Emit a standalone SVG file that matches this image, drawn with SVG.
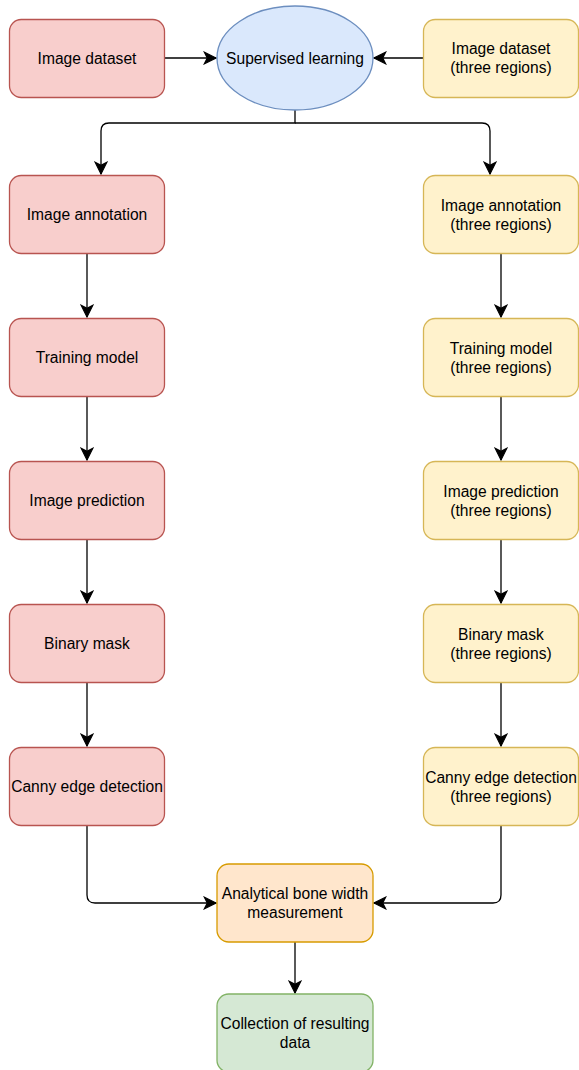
<svg xmlns="http://www.w3.org/2000/svg" width="579" height="1070" viewBox="0 0 579 1070">
<style>
  .n { stroke-width: 1.3; }
  .red { fill: #f8cecc; stroke: #b85450; }
  .yel { fill: #fff2cc; stroke: #d6b656; }
  .blu { fill: #dae8fc; stroke: #6c8ebf; }
  .org { fill: #ffe6cc; stroke: #d79b00; }
  .grn { fill: #d5e8d4; stroke: #82b366; }
  text { font-family: "Liberation Sans", Arial, sans-serif; font-size: 15.6px; fill: #000; text-anchor: middle; }
  .e { fill: none; stroke: #000; stroke-width: 1.3; }
</style>
<defs>
  <marker id="arr" markerUnits="userSpaceOnUse" markerWidth="14" markerHeight="14" viewBox="-11 -6 12 12" refX="0" refY="0" orient="auto">
    <path d="M0,0 L-10,-5 L-7.5,0 L-10,5 Z" fill="#000" stroke="#000" stroke-width="1"/>
  </marker>
</defs>

<g id="connectors">
  <path class="e" d="M164.5,58 H216" marker-end="url(#arr)"/>
  <path class="e" d="M423.5,58 H374" marker-end="url(#arr)"/>
  <path class="e" d="M295,110 V123 H109 Q101,123 101,131 V174" marker-end="url(#arr)"/>
  <path class="e" d="M295,123 H482 Q490,123 490,131 V174" marker-end="url(#arr)"/>
  <path class="e" d="M87,253 V317" marker-end="url(#arr)"/>
  <path class="e" d="M87,396 V460" marker-end="url(#arr)"/>
  <path class="e" d="M87,539 V603" marker-end="url(#arr)"/>
  <path class="e" d="M87,682 V746" marker-end="url(#arr)"/>
  <path class="e" d="M501,253 V317" marker-end="url(#arr)"/>
  <path class="e" d="M501,396 V460" marker-end="url(#arr)"/>
  <path class="e" d="M501,539 V603" marker-end="url(#arr)"/>
  <path class="e" d="M501,682 V746" marker-end="url(#arr)"/>
  <path class="e" d="M87,825 V895 Q87,903 95,903 H216" marker-end="url(#arr)"/>
  <path class="e" d="M501,825 V895 Q501,903 493,903 H374" marker-end="url(#arr)"/>
  <path class="e" d="M295,942 V993" marker-end="url(#arr)"/>
</g>

<g id="n-dataset"><rect class="n red" x="9.5" y="19.5" width="155" height="78" rx="11.7"/><text x="87" y="63.5">Image dataset</text></g>
<g id="n-supervised"><ellipse class="n blu" cx="295" cy="58" rx="78" ry="52"/><text x="295" y="63.5">Supervised learning</text></g>
<g id="n-dataset3"><rect class="n yel" x="423.5" y="19.5" width="155" height="78" rx="11.7"/><text x="501" y="54">Image dataset</text><text x="501" y="73">(three regions)</text></g>

<g id="n-annot"><rect class="n red" x="9.5" y="175.5" width="155" height="78" rx="11.7"/><text x="87" y="220">Image annotation</text></g>
<g id="n-annot3"><rect class="n yel" x="423.5" y="175.5" width="155" height="78" rx="11.7"/><text x="501" y="210.5">Image annotation</text><text x="501" y="229.5">(three regions)</text></g>

<g id="n-train"><rect class="n red" x="9.5" y="318.5" width="155" height="78" rx="11.7"/><text x="87" y="363">Training model</text></g>
<g id="n-train3"><rect class="n yel" x="423.5" y="318.5" width="155" height="78" rx="11.7"/><text x="501" y="353.5">Training model</text><text x="501" y="372.5">(three regions)</text></g>

<g id="n-pred"><rect class="n red" x="9.5" y="461.5" width="155" height="78" rx="11.7"/><text x="87" y="506">Image prediction</text></g>
<g id="n-pred3"><rect class="n yel" x="423.5" y="461.5" width="155" height="78" rx="11.7"/><text x="501" y="496.5">Image prediction</text><text x="501" y="515.5">(three regions)</text></g>

<g id="n-mask"><rect class="n red" x="9.5" y="604.5" width="155" height="78" rx="11.7"/><text x="87" y="649">Binary mask</text></g>
<g id="n-mask3"><rect class="n yel" x="423.5" y="604.5" width="155" height="78" rx="11.7"/><text x="501" y="639.5">Binary mask</text><text x="501" y="658.5">(three regions)</text></g>

<g id="n-canny"><rect class="n red" x="9.5" y="747.5" width="155" height="78" rx="11.7"/><text x="87" y="792">Canny edge detection</text></g>
<g id="n-canny3"><rect class="n yel" x="423.5" y="747.5" width="155" height="78" rx="11.7"/><text x="501" y="782.5">Canny edge detection</text><text x="501" y="801.5">(three regions)</text></g>

<g id="n-analytical"><rect class="n org" x="217" y="864" width="156" height="78" rx="11.7"/><text x="295" y="898.5">Analytical bone width</text><text x="295" y="917.5">measurement</text></g>
<g id="n-collection"><rect class="n grn" x="217" y="994" width="156" height="78" rx="11.7"/><text x="295" y="1028.5">Collection of resulting</text><text x="295" y="1047.5">data</text></g>
</svg>
